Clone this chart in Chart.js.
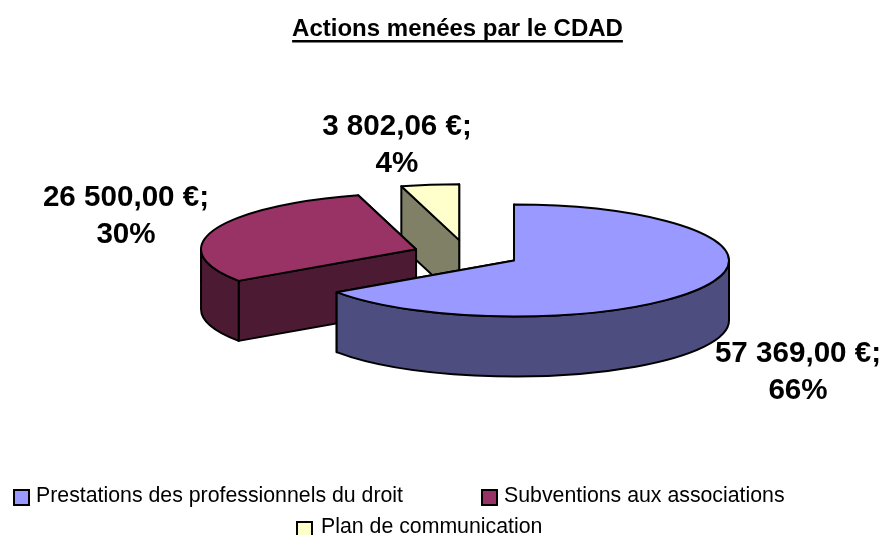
<!DOCTYPE html>
<html><head><meta charset="utf-8">
<style>html,body{margin:0;padding:0;background:#fff}canvas{display:block}</style>
<script src="https://cdn.jsdelivr.net/npm/chart.js@4"></script></head>
<body><canvas id="c" width="883" height="535"></canvas>
<script>
const titleText = 'Actions menées par le CDAD';
const categories = ['Prestations des professionnels du droit', 'Subventions aux associations', 'Plan de communication'];
const amounts = [57369.00, 26500.00, 3802.06];
const percents = [66, 30, 4];
const topColors = ['#9999FF', '#993366', '#FFFFCC'];
const sideColors = ['#4D4D80', '#4D1A33', '#808066'];

const FONT = '"Liberation Sans", Arial, sans-serif';
const PIE = {cx: 466.5, cy: 254, rx: 215, ry: 56, depth: 60, explode: 53.7, line: 2};
const labelAnchors = [[798, 354], [126, 198], [397, 127]];
const labelClips = [881, 211, 471];
const LABEL_GAP = 37, LABEL_SIZE = 29.6;
const legendPlaces = [[14, 490, 36, 502], [482, 490, 504, 502], [297, 522, 321, 533]];

function euro(v) {
  const p = v.toFixed(2).split('.');
  return p[0].replace(/\B(?=(\d{3})+$)/g, ' ') + ',' + p[1] + ' €;';
}

const pie3d = {
  id: 'pie3d',
  beforeDatasetDraw(chart) {
    const ctx = chart.ctx, arcs = chart.getDatasetMeta(0).data;
    for (let i = arcs.length - 1; i >= 0; i--) {
      const arc = arcs[i];
      const mid = (arc.startAngle + arc.endAngle) / 2;
      const ox = PIE.cx + Math.cos(mid) * PIE.explode;
      const oy = PIE.cy + Math.sin(mid) * PIE.explode * PIE.ry / PIE.rx;
      const rim = a => [ox + Math.cos(a) * PIE.rx, oy + Math.sin(a) * PIE.ry];
      ctx.save();
      ctx.lineWidth = PIE.line; ctx.lineJoin = 'round';
      ctx.strokeStyle = '#000'; ctx.fillStyle = sideColors[i];
      [arc.endAngle, arc.startAngle].forEach(a => {
        const p = rim(a);
        ctx.beginPath();
        ctx.moveTo(ox, oy); ctx.lineTo(p[0], p[1]);
        ctx.lineTo(p[0], p[1] + PIE.depth); ctx.lineTo(ox, oy + PIE.depth);
        ctx.closePath(); ctx.fill(); ctx.stroke();
      });
      const a0 = Math.max(arc.startAngle, 0), a1 = Math.min(arc.endAngle, Math.PI);
      if (a1 > a0) {
        ctx.beginPath();
        ctx.ellipse(ox, oy, PIE.rx, PIE.ry, 0, a0, a1);
        ctx.ellipse(ox, oy + PIE.depth, PIE.rx, PIE.ry, 0, a1, a0, true);
        ctx.closePath(); ctx.fill(); ctx.stroke();
      }
      ctx.save();
      ctx.translate(ox, oy);
      ctx.scale(PIE.rx / arc.outerRadius, PIE.ry / arc.outerRadius);
      ctx.translate(-arc.x, -arc.y);
      arc.draw(ctx);
      ctx.restore();
      ctx.beginPath();
      ctx.moveTo(ox, oy);
      ctx.ellipse(ox, oy, PIE.rx, PIE.ry, 0, arc.startAngle, arc.endAngle);
      ctx.closePath(); ctx.stroke();
      ctx.restore();
    }
    return false;
  },
  afterDraw(chart) {
    const ctx = chart.ctx;
    ctx.save();
    ctx.fillStyle = '#000';
    const tb = chart.titleBlock;
    ctx.font = 'bold 24px ' + FONT;
    const tw = ctx.measureText(titleText).width, tx = (tb.left + tb.right) / 2;
    ctx.fillRect(tx - tw / 2, 40, tw, 2.5);
    ctx.textAlign = 'center'; ctx.textBaseline = 'middle';
    ctx.font = 'bold ' + LABEL_SIZE + 'px ' + FONT;
    amounts.forEach((v, i) => {
      const [x, y] = labelAnchors[i];
      ctx.save();
      ctx.beginPath(); ctx.rect(0, y - 30, labelClips[i], 50); ctx.clip();
      ctx.fillText(euro(v), x, y);
      ctx.restore();
      ctx.fillText(percents[i] + '%', x, y + LABEL_GAP);
    });
    ctx.textAlign = 'left'; ctx.textBaseline = 'alphabetic';
    ctx.font = '21.3px ' + FONT;
    categories.forEach((t, i) => {
      const [bx, by, tx2, ty] = legendPlaces[i];
      ctx.fillStyle = topColors[i]; ctx.strokeStyle = '#000'; ctx.lineWidth = 2;
      ctx.fillRect(bx, by, 15, 15); ctx.strokeRect(bx, by, 15, 15);
      ctx.fillStyle = '#000';
      ctx.fillText(t, tx2, ty);
    });
    ctx.restore();
  }
};

new Chart(document.getElementById('c'), {
  type: 'pie',
  data: {labels: categories, datasets: [{data: amounts, backgroundColor: topColors, borderWidth: 0, radius: 215}]},
  options: {
    responsive: false, animation: false,
    layout: {padding: {left: 32}},
    plugins: {
      legend: {display: false},
      tooltip: {enabled: false},
      title: {display: true, text: titleText, color: '#000', font: {family: FONT, size: 24, weight: 'bold'}, padding: {top: 15, bottom: 4}}
    }
  },
  plugins: [pie3d]
});
</script></body></html>
